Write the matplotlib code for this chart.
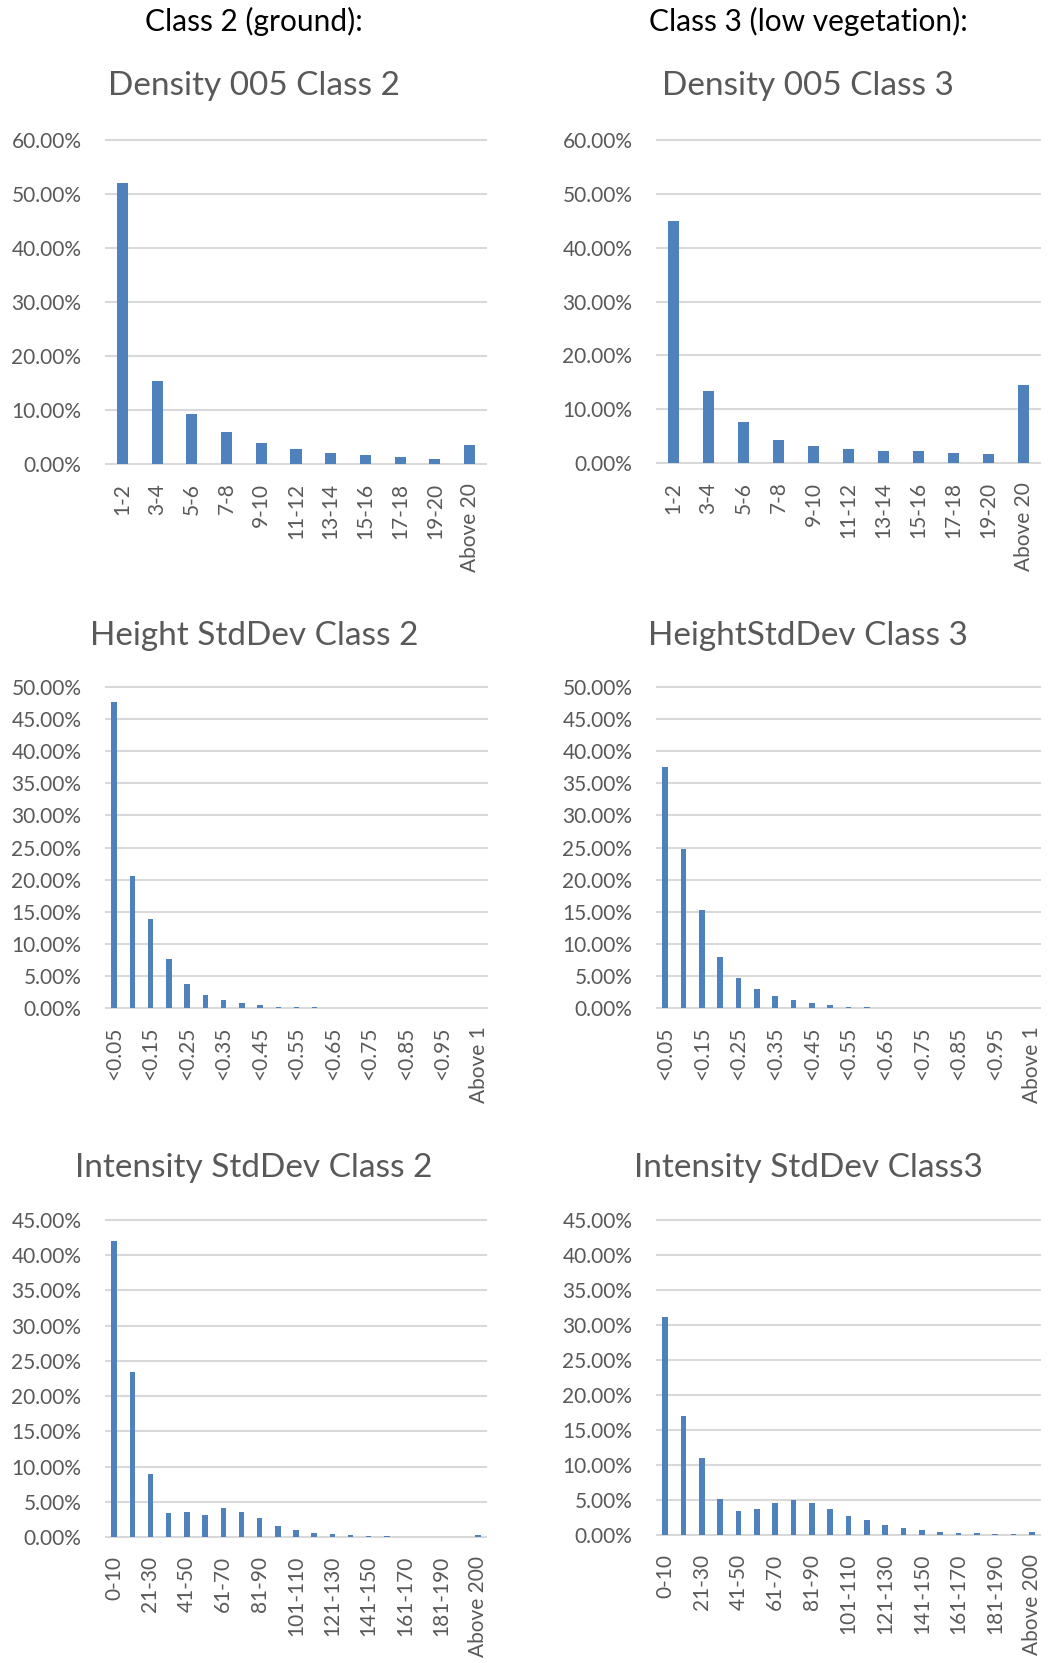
import numpy as np
import matplotlib.pyplot as plt
from matplotlib.ticker import FuncFormatter

plt.rcParams['font.family'] = ['Lato', 'DejaVu Sans']

# categories
density_cats = ['1-2', '3-4', '5-6', '7-8', '9-10', '11-12', '13-14', '15-16',
                '17-18', '19-20', 'Above 20']
height_cats = ['<%.2f' % (0.05 * (i + 1)) for i in range(20)] + ['Above 1']
intensity_cats = ['0-10'] + ['%d-%d' % (10 * i + 1, 10 * i + 10) for i in range(1, 20)] + ['Above 200']

# values in percent
density_c2 = [52.0, 15.4, 9.2, 5.95, 3.9, 2.8, 2.0, 1.65, 1.3, 0.95, 3.5]
density_c3 = [44.9, 13.3, 7.55, 4.25, 3.25, 2.6, 2.25, 2.15, 1.85, 1.65, 14.55]

height_c2 = [47.7, 20.5, 13.9, 7.6, 3.7, 2.1, 1.25, 0.73, 0.4, 0.22, 0.15, 0.08,
             0.05, 0.03, 0.02, 0.01, 0.01, 0.0, 0.0, 0.0, 0.0]
height_c3 = [37.5, 24.8, 15.2, 8.0, 4.6, 3.0, 1.9, 1.2, 0.8, 0.47, 0.22, 0.12,
             0.07, 0.04, 0.03, 0.01, 0.01, 0.0, 0.0, 0.0, 0.0]

intensity_c2 = [42.0, 23.4, 9.0, 3.45, 3.55, 3.15, 4.1, 3.55, 2.65, 1.55, 0.95, 0.57,
                0.38, 0.24, 0.12, 0.08, 0.05, 0.03, 0.02, 0.01, 0.33]
intensity_c3 = [31.2, 17.0, 11.0, 5.1, 3.45, 3.75, 4.55, 5.05, 4.55, 3.7, 2.7, 2.1,
                1.5, 1.0, 0.67, 0.38, 0.28, 0.24, 0.19, 0.14, 0.43]

W, H = 1048, 1663
BLUE = '#4F81BD'
GRAY = '#595959'
GRID = '#D9D9D9'

fig = plt.figure(figsize=(W / 100, H / 100), dpi=100)


def panel(left, right, y_zero, y_top, vmax, step, cats, vals, every, width):
    pad = 2
    per_px = vmax / (y_zero - y_top)
    ax = fig.add_axes([left / W, 1 - (y_zero + pad) / H,
                       (right - left) / W, (y_zero - y_top + 2 * pad) / H])
    x = np.arange(len(cats))
    ax.bar(x, vals, width=width, color=BLUE, zorder=3)
    ax.set_xlim(-0.5, len(cats) - 0.5)
    ax.set_ylim(-pad * per_px, vmax + pad * per_px)
    ax.set_yticks(np.arange(0, vmax + 0.01, step))
    ax.yaxis.set_major_formatter(FuncFormatter(lambda v, p: '%.2f%%' % v))
    ax.set_xticks(x[::every])
    ax.set_xticklabels(cats[::every], rotation=90)
    ax.tick_params(axis='y', length=0, pad=17, labelsize=15, labelcolor=GRAY)
    ax.tick_params(axis='x', length=0, pad=12, labelsize=15, labelcolor=GRAY)
    ax.grid(axis='y', color=GRID, linewidth=1.5, zorder=0)
    for s in ax.spines.values():
        s.set_visible(False)
    return ax


panel(105, 487, 464, 140, 60, 10, density_cats, density_c2, 1, 0.32)
panel(656, 1041, 463, 140, 60, 10, density_cats, density_c3, 1, 0.32)
panel(105, 488, 1008, 687, 50, 5, height_cats, height_c2, 2, 0.3)
panel(656, 1041, 1008, 687, 50, 5, height_cats, height_c3, 2, 0.3)
panel(105, 487, 1537, 1220, 45, 5, intensity_cats, intensity_c2, 2, 0.3)
panel(656, 1041, 1535, 1220, 45, 5, intensity_cats, intensity_c3, 2, 0.3)

# column headers
fig.text(254 / W, 1 - 31 / H, 'Class 2 (ground):', ha='center', va='baseline',
         fontsize=21.5, color='black')
fig.text(808 / W, 1 - 31 / H, 'Class 3 (low vegetation):', ha='center', va='baseline',
         fontsize=21.5, color='black')

# chart titles
titles = [(254, 95, 'Density 005 Class 2'), (808, 95, 'Density 005 Class 3'),
          (254, 645, 'Height StdDev Class 2'), (808, 645, 'HeightStdDev Class 3'),
          (254, 1177, 'Intensity StdDev Class 2'), (808, 1177, 'Intensity StdDev Class3')]
for tx, ty, t in titles:
    fig.text(tx / W, 1 - ty / H, t, ha='center', va='baseline', fontsize=24, color=GRAY)

fig.savefig('out.png', dpi=100)
